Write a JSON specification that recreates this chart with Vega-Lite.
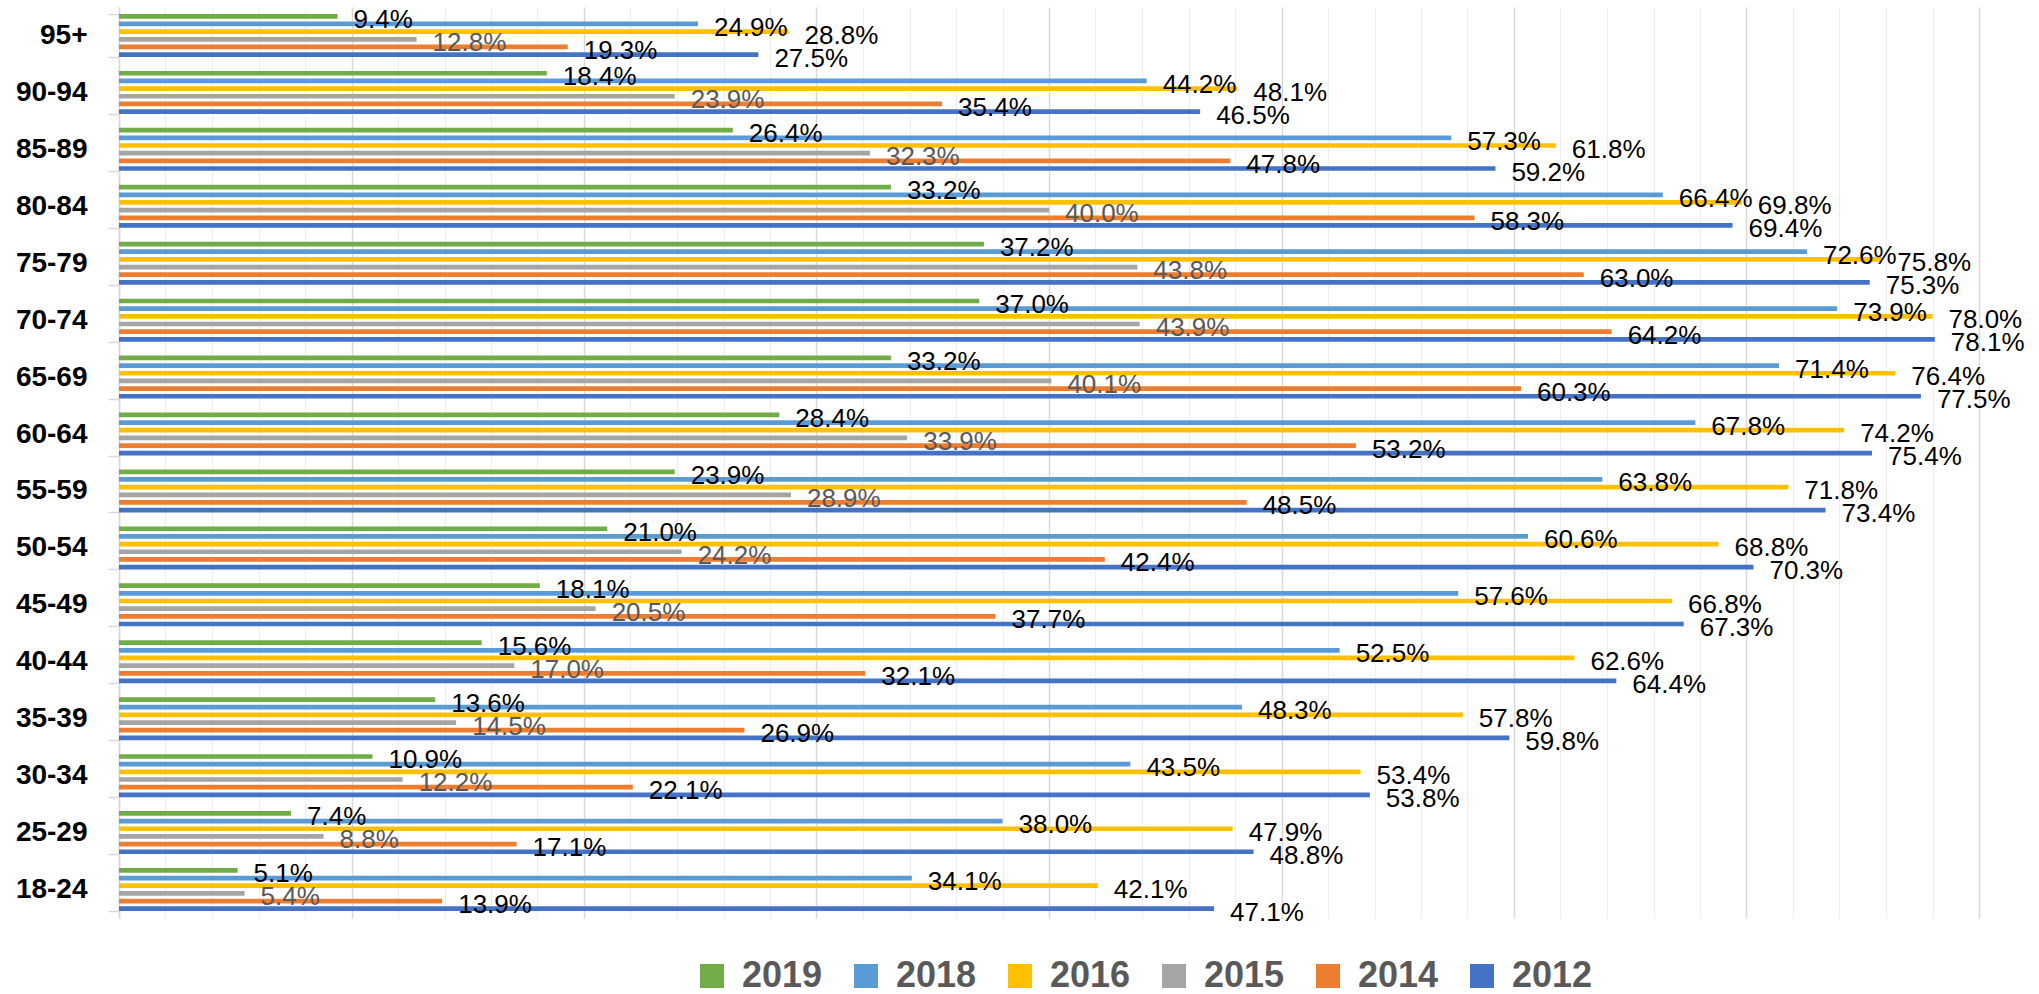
{
  "$schema": "https://vega.github.io/schema/vega-lite/v6.json",
  "width": 1860,
  "height": 911,
  "autosize": {"type": "none"},
  "padding": {"left": 119, "top": 7, "right": 60, "bottom": 76},
  "background": "white",
  "config": {"view": {"stroke": null}, "font": "Liberation Sans"},
  "data": {"values": [
    {"age": "95+", "year": "2019", "value": 0.094}, {"age": "95+", "year": "2018", "value": 0.249}, {"age": "95+", "year": "2016", "value": 0.288}, {"age": "95+", "year": "2015", "value": 0.128}, {"age": "95+", "year": "2014", "value": 0.193}, {"age": "95+", "year": "2012", "value": 0.275},
    {"age": "90-94", "year": "2019", "value": 0.184}, {"age": "90-94", "year": "2018", "value": 0.442}, {"age": "90-94", "year": "2016", "value": 0.481}, {"age": "90-94", "year": "2015", "value": 0.239}, {"age": "90-94", "year": "2014", "value": 0.354}, {"age": "90-94", "year": "2012", "value": 0.465},
    {"age": "85-89", "year": "2019", "value": 0.264}, {"age": "85-89", "year": "2018", "value": 0.573}, {"age": "85-89", "year": "2016", "value": 0.618}, {"age": "85-89", "year": "2015", "value": 0.323}, {"age": "85-89", "year": "2014", "value": 0.478}, {"age": "85-89", "year": "2012", "value": 0.592},
    {"age": "80-84", "year": "2019", "value": 0.332}, {"age": "80-84", "year": "2018", "value": 0.664}, {"age": "80-84", "year": "2016", "value": 0.698}, {"age": "80-84", "year": "2015", "value": 0.400}, {"age": "80-84", "year": "2014", "value": 0.583}, {"age": "80-84", "year": "2012", "value": 0.694},
    {"age": "75-79", "year": "2019", "value": 0.372}, {"age": "75-79", "year": "2018", "value": 0.726}, {"age": "75-79", "year": "2016", "value": 0.758}, {"age": "75-79", "year": "2015", "value": 0.438}, {"age": "75-79", "year": "2014", "value": 0.630}, {"age": "75-79", "year": "2012", "value": 0.753},
    {"age": "70-74", "year": "2019", "value": 0.370}, {"age": "70-74", "year": "2018", "value": 0.739}, {"age": "70-74", "year": "2016", "value": 0.780}, {"age": "70-74", "year": "2015", "value": 0.439}, {"age": "70-74", "year": "2014", "value": 0.642}, {"age": "70-74", "year": "2012", "value": 0.781},
    {"age": "65-69", "year": "2019", "value": 0.332}, {"age": "65-69", "year": "2018", "value": 0.714}, {"age": "65-69", "year": "2016", "value": 0.764}, {"age": "65-69", "year": "2015", "value": 0.401}, {"age": "65-69", "year": "2014", "value": 0.603}, {"age": "65-69", "year": "2012", "value": 0.775},
    {"age": "60-64", "year": "2019", "value": 0.284}, {"age": "60-64", "year": "2018", "value": 0.678}, {"age": "60-64", "year": "2016", "value": 0.742}, {"age": "60-64", "year": "2015", "value": 0.339}, {"age": "60-64", "year": "2014", "value": 0.532}, {"age": "60-64", "year": "2012", "value": 0.754},
    {"age": "55-59", "year": "2019", "value": 0.239}, {"age": "55-59", "year": "2018", "value": 0.638}, {"age": "55-59", "year": "2016", "value": 0.718}, {"age": "55-59", "year": "2015", "value": 0.289}, {"age": "55-59", "year": "2014", "value": 0.485}, {"age": "55-59", "year": "2012", "value": 0.734},
    {"age": "50-54", "year": "2019", "value": 0.210}, {"age": "50-54", "year": "2018", "value": 0.606}, {"age": "50-54", "year": "2016", "value": 0.688}, {"age": "50-54", "year": "2015", "value": 0.242}, {"age": "50-54", "year": "2014", "value": 0.424}, {"age": "50-54", "year": "2012", "value": 0.703},
    {"age": "45-49", "year": "2019", "value": 0.181}, {"age": "45-49", "year": "2018", "value": 0.576}, {"age": "45-49", "year": "2016", "value": 0.668}, {"age": "45-49", "year": "2015", "value": 0.205}, {"age": "45-49", "year": "2014", "value": 0.377}, {"age": "45-49", "year": "2012", "value": 0.673},
    {"age": "40-44", "year": "2019", "value": 0.156}, {"age": "40-44", "year": "2018", "value": 0.525}, {"age": "40-44", "year": "2016", "value": 0.626}, {"age": "40-44", "year": "2015", "value": 0.170}, {"age": "40-44", "year": "2014", "value": 0.321}, {"age": "40-44", "year": "2012", "value": 0.644},
    {"age": "35-39", "year": "2019", "value": 0.136}, {"age": "35-39", "year": "2018", "value": 0.483}, {"age": "35-39", "year": "2016", "value": 0.578}, {"age": "35-39", "year": "2015", "value": 0.145}, {"age": "35-39", "year": "2014", "value": 0.269}, {"age": "35-39", "year": "2012", "value": 0.598},
    {"age": "30-34", "year": "2019", "value": 0.109}, {"age": "30-34", "year": "2018", "value": 0.435}, {"age": "30-34", "year": "2016", "value": 0.534}, {"age": "30-34", "year": "2015", "value": 0.122}, {"age": "30-34", "year": "2014", "value": 0.221}, {"age": "30-34", "year": "2012", "value": 0.538},
    {"age": "25-29", "year": "2019", "value": 0.074}, {"age": "25-29", "year": "2018", "value": 0.380}, {"age": "25-29", "year": "2016", "value": 0.479}, {"age": "25-29", "year": "2015", "value": 0.088}, {"age": "25-29", "year": "2014", "value": 0.171}, {"age": "25-29", "year": "2012", "value": 0.488},
    {"age": "18-24", "year": "2019", "value": 0.051}, {"age": "18-24", "year": "2018", "value": 0.341}, {"age": "18-24", "year": "2016", "value": 0.421}, {"age": "18-24", "year": "2015", "value": 0.054}, {"age": "18-24", "year": "2014", "value": 0.139}, {"age": "18-24", "year": "2012", "value": 0.471}
  ]},
  "encoding": {
    "y": {
      "field": "age", "type": "nominal",
      "sort": ["95+", "90-94", "85-89", "80-84", "75-79", "70-74", "65-69", "60-64", "55-59", "50-54", "45-49", "40-44", "35-39", "30-34", "25-29", "18-24"],
      "scale": {"paddingInner": 0.244, "paddingOuter": 0.122},
      "axis": {"title": null, "labelFontSize": 28, "labelFontWeight": "bold", "labelColor": "black", "labelFont": "Liberation Sans", "labelPadding": 21, "tickSize": 11, "tickColor": "#d9d9d9", "tickWidth": 1.5, "tickBand": "extent", "domainColor": "#d9d9d9", "domainWidth": 1.5, "grid": false}
    },
    "yOffset": {
      "field": "year", "type": "nominal",
      "sort": ["2019", "2018", "2016", "2015", "2014", "2012"],
      "scale": {"paddingInner": 0.387, "paddingOuter": 0}
    }
  },
  "layer": [
    {
      "mark": {"type": "bar"},
      "encoding": {
        "x": {"field": "value", "type": "quantitative", "scale": {"domain": [0, 0.8], "nice": false},
              "axis": {"title": null, "labels": false, "ticks": false, "domain": false, "grid": true, "gridColor": "#ededed", "gridWidth": 1,
                       "values": [0, 0.02, 0.04, 0.06, 0.08, 0.1, 0.12, 0.14, 0.16, 0.18, 0.2, 0.22, 0.24, 0.26, 0.28, 0.3, 0.32, 0.34, 0.36, 0.38, 0.4, 0.42, 0.44, 0.46, 0.48, 0.5, 0.52, 0.54, 0.56, 0.58, 0.6, 0.62, 0.64, 0.66, 0.68, 0.7, 0.72, 0.74, 0.76, 0.78, 0.8]}},
        "color": {
          "field": "year", "type": "nominal",
          "sort": ["2019", "2018", "2016", "2015", "2014", "2012"],
          "scale": {"domain": ["2019", "2018", "2016", "2015", "2014", "2012"], "range": ["#70ad47", "#5b9bd5", "#ffc000", "#a5a5a5", "#ed7d31", "#4472c4"]},
          "legend": {"title": null, "orient": "none", "direction": "horizontal", "legendX": 575, "legendY": 951,
                     "symbolType": "square", "symbolSize": 576, "symbolStrokeWidth": 0, "symbolOpacity": 1,
                     "labelFontSize": 36, "labelFontWeight": "bold", "labelColor": "#595959", "labelFont": "Liberation Sans",
                     "labelOffset": 12, "columnPadding": 25, "labelLimit": 300}
        }
      }
    },
    {
      "mark": {"type": "text", "align": "left", "baseline": "middle", "dx": 16, "dy": 4, "fontSize": 26, "font": "Liberation Sans"},
      "encoding": {
        "x": {"field": "value", "type": "quantitative", "scale": {"domain": [0, 0.8], "nice": false},
              "axis": {"title": null, "labels": false, "ticks": false, "domain": false, "grid": true, "gridColor": "#d9d9d9", "gridWidth": 1.5,
                       "values": [0, 0.1, 0.2, 0.3, 0.4, 0.5, 0.6, 0.7, 0.8]}},
        "text": {"field": "value", "type": "quantitative", "format": ".1%"},
        "color": {"condition": {"test": "datum.year === '2015'", "value": "#595959"}, "value": "#000000"}
      }
    }
  ],
  "resolve": {"axis": {"x": "independent"}}
}
